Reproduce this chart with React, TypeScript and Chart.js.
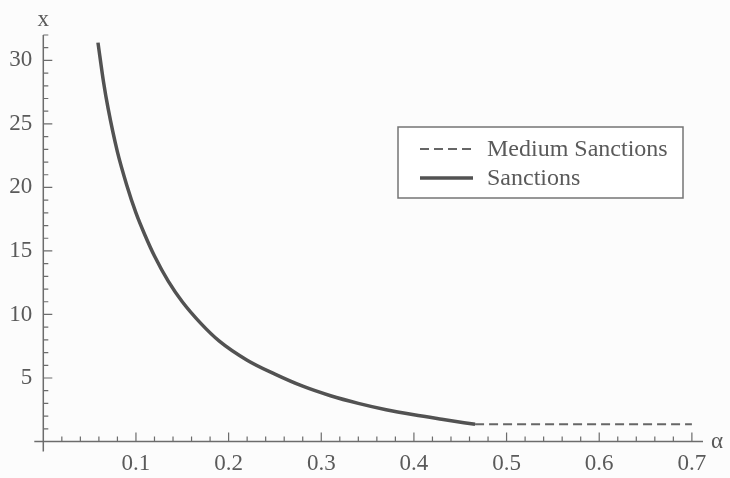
import React, { useEffect, useRef } from "react";
import { Chart, registerables } from "chart.js";

Chart.register(...registerables);

const sanctionsAlpha = [0.059, 0.065, 0.07, 0.08, 0.09, 0.1, 0.11, 0.12, 0.135, 0.15, 0.17, 0.19, 0.22, 0.25, 0.28, 0.31, 0.34, 0.37, 0.4, 0.43, 0.466];
const sanctionsX = [31.4, 28.3, 26.2, 22.8, 20.2, 18.0, 16.2, 14.6, 12.6, 11.0, 9.3, 7.9, 6.4, 5.3, 4.35, 3.6, 3.0, 2.5, 2.1, 1.75, 1.35];
const mediumAlpha = [0.466, 0.7];
const mediumX = [1.35, 1.35];
const xTickLabels = [0.1, 0.2, 0.3, 0.4, 0.5, 0.6, 0.7];
const yTickLabels = [5, 10, 15, 20, 25, 30];

const FONT = "'Liberation Serif', 'Times New Roman', serif";
const TEXT = "#5a5a5a";
const AXIS = "#6c6c6c";

const axesPlugin = {
  id: "mathAxes",
  afterDraw(chart: any) {
    const ctx = chart.ctx;
    const xs = chart.scales.x;
    const ys = chart.scales.y;
    const x0 = xs.getPixelForValue(0);
    const y0 = ys.getPixelForValue(0);
    const yTop = ys.getPixelForValue(ys.max);
    const xRight = xs.getPixelForValue(xs.max);
    ctx.save();
    ctx.strokeStyle = AXIS;
    ctx.lineWidth = 1.5;
    ctx.beginPath();
    ctx.moveTo(x0 - 9, y0);
    ctx.lineTo(xRight, y0);
    ctx.moveTo(x0, y0 + 10);
    ctx.lineTo(x0, yTop);
    ctx.stroke();
    ctx.lineWidth = 1.2;
    ctx.beginPath();
    for (let i = 1; i <= 35; i++) {
      const px = xs.getPixelForValue(i * 0.02);
      const major = i % 5 === 0;
      ctx.moveTo(px, y0);
      ctx.lineTo(px, y0 - (major ? 9 : 5));
    }
    for (let i = 1; i <= 32; i++) {
      const py = ys.getPixelForValue(i);
      const major = i % 5 === 0;
      ctx.moveTo(x0, py);
      ctx.lineTo(x0 + (major ? 9 : 5), py);
    }
    ctx.stroke();
    ctx.fillStyle = TEXT;
    ctx.font = `23px ${FONT}`;
    ctx.textAlign = "center";
    ctx.textBaseline = "middle";
    ctx.fillText("x", x0, 20);
    ctx.textAlign = "left";
    ctx.fillText("α", xRight + 8, y0);
    const lx = 398, ly = 127, lw = 285, lh = 71;
    ctx.fillStyle = "#ffffff";
    ctx.fillRect(lx, ly, lw, lh);
    ctx.strokeStyle = "#747474";
    ctx.lineWidth = 1.5;
    ctx.strokeRect(lx, ly, lw, lh);
    const items = [
      { ds: chart.data.datasets[0], y: 149 },
      { ds: chart.data.datasets[1], y: 178 },
    ];
    items.forEach((it) => {
      ctx.strokeStyle = it.ds.borderColor;
      ctx.lineWidth = it.ds.borderWidth;
      ctx.setLineDash(it.ds.borderDash || []);
      ctx.beginPath();
      ctx.moveTo(420, it.y);
      ctx.lineTo(473, it.y);
      ctx.stroke();
      ctx.setLineDash([]);
      ctx.fillStyle = TEXT;
      ctx.font = `24px ${FONT}`;
      ctx.textAlign = "left";
      ctx.textBaseline = "middle";
      ctx.fillText(it.ds.label, 487, it.y + 1);
    });
    ctx.restore();
  },
};

export default function App() {
  const ref = useRef<HTMLCanvasElement | null>(null);
  useEffect(() => {
    document.body.style.margin = "0";
    const canvas = ref.current!;
    const chart = new Chart(canvas, {
      type: "line",
      data: {
        datasets: [
          {
            label: "Medium Sanctions",
            data: mediumAlpha.map((a, i) => ({ x: a, y: mediumX[i] })),
            borderColor: "#666666",
            borderWidth: 2,
            borderDash: [9, 5],
            pointRadius: 0,
            fill: false,
          },
          {
            label: "Sanctions",
            data: sanctionsAlpha.map((a, i) => ({ x: a, y: sanctionsX[i] })),
            borderColor: "#525252",
            borderWidth: 3.5,
            pointRadius: 0,
            cubicInterpolationMode: "monotone",
            fill: false,
          },
        ],
      },
      options: {
        animation: false,
        responsive: true,
        maintainAspectRatio: false,
        layout: { padding: { top: 35, right: 27, left: 0, bottom: 0 } },
        plugins: { legend: { display: false }, tooltip: { enabled: false } },
        scales: {
          x: {
            type: "linear",
            min: 0,
            max: 0.712,
            grid: { display: false, drawTicks: false },
            border: { display: false },
            afterBuildTicks: (s: any) => {
              s.ticks = xTickLabels.map((v) => ({ value: v }));
            },
            afterFit: (s: any) => {
              s.height = 36.5;
            },
            ticks: {
              color: TEXT,
              font: { family: FONT, size: 23 },
              padding: 9,
              maxRotation: 0,
              autoSkip: false,
              callback: (v: any) => Number(v).toFixed(1),
            },
          },
          y: {
            type: "linear",
            min: 0,
            max: 32,
            grid: { display: false, drawTicks: false },
            border: { display: false },
            afterBuildTicks: (s: any) => {
              s.ticks = yTickLabels.map((v) => ({ value: v }));
            },
            afterFit: (s: any) => {
              s.width = 43.3;
            },
            ticks: {
              color: TEXT,
              font: { family: FONT, size: 23 },
              padding: 11,
              autoSkip: false,
              callback: (v: any) => String(v),
            },
          },
        },
      } as any,
      plugins: [axesPlugin],
    });
    return () => chart.destroy();
  }, []);
  return (
    <div style={{ position: "relative", width: 730, height: 478, background: "#fcfcfc" }}>
      <canvas ref={ref} />
    </div>
  );
}
